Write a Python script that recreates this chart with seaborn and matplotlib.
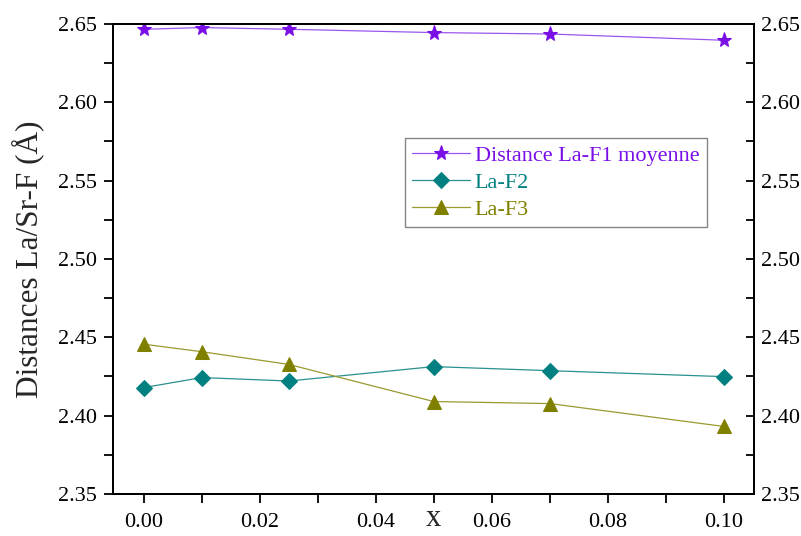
import numpy as np
import pandas as pd
import matplotlib
matplotlib.use('Agg')
import matplotlib.pyplot as plt
from matplotlib.ticker import MultipleLocator, FormatStrFormatter
import seaborn as sns

# data
x_vals = [0.00, 0.01, 0.025, 0.05, 0.07, 0.10]
la_f1 = [2.6466, 2.6477, 2.6466, 2.6445, 2.6436, 2.6396]
la_f2 = [2.4179, 2.4243, 2.4221, 2.4313, 2.4287, 2.4249]
la_f3 = [2.4456, 2.4408, 2.4327, 2.4090, 2.4077, 2.3931]

series_names = ['Distance La-F1 moyenne', 'La-F2', 'La-F3']
series_colors = ['#7a0ee6', '#008080', '#808000']
line_colors = ['#9a55ee', '#2a9090', '#9a9a30']
series_markers = ['*', 'D', '^']
marker_sizes = [11, 8, 10.5]

sns.set_style('ticks')
plt.rcParams['font.family'] = ['Liberation Serif', 'DejaVu Serif']

fig = plt.figure(figsize=(8.01, 5.36), dpi=100)
ax = fig.add_axes([0.1411, 0.0784, 0.8002, 0.8769])

for vals, name, col, lcol, mk, ms in zip([la_f1, la_f2, la_f3], series_names,
                                         series_colors, line_colors,
                                         series_markers, marker_sizes):
    df = pd.DataFrame({'x': x_vals, 'y': vals})
    sns.lineplot(data=df, x='x', y='y', ax=ax, color=lcol, marker=mk,
                 markersize=ms, markerfacecolor=col, markeredgecolor=col,
                 linewidth=0.9, label=name)

ax.set_xlim(-0.0053, 0.1052)
ax.set_ylim(2.35, 2.65)
ax.xaxis.set_major_locator(MultipleLocator(0.02))
ax.xaxis.set_minor_locator(MultipleLocator(0.01))
ax.yaxis.set_major_locator(MultipleLocator(0.05))
ax.yaxis.set_minor_locator(MultipleLocator(0.025))
ax.xaxis.set_major_formatter(FormatStrFormatter('%.2f'))
ax.yaxis.set_major_formatter(FormatStrFormatter('%.2f'))

ax.tick_params(axis='both', which='both', direction='out', length=6.5, width=1.3,
               labelsize=16, top=False, right=False, colors='black')
ax.tick_params(axis='x', which='major', pad=7)
ax.tick_params(axis='y', which='major', pad=5)
for sp in ax.spines.values():
    sp.set_linewidth(1.4)
    sp.set_color('black')

ax.set_xlabel('x', fontsize=22, labelpad=-20)
ax.set_ylabel('Distances La/Sr-F (Å)', fontsize=22.5, labelpad=10)

ax2 = ax.twinx()
ax2.set_ylim(ax.get_ylim())
ax2.yaxis.set_major_locator(MultipleLocator(0.05))
ax2.yaxis.set_minor_locator(MultipleLocator(0.025))
ax2.yaxis.set_major_formatter(FormatStrFormatter('%.2f'))
ax2.tick_params(axis='y', which='both', direction='in', length=6, width=1.3,
                labelsize=16, colors='black', pad=5)
for sp in ax2.spines.values():
    sp.set_linewidth(1.4)
    sp.set_color('black')

leg = ax.legend(loc='upper left', bbox_to_anchor=(0.455, 0.758), fontsize=16,
                frameon=True, fancybox=False, edgecolor='#666666',
                handlelength=2.6, handletextpad=0.2, borderpad=0.35,
                labelspacing=0.28, borderaxespad=0)
leg.get_frame().set_linewidth(1.0)
for txt, col in zip(leg.get_texts(), series_colors):
    txt.set_color(col)

fig.savefig('out.png', dpi=100)
